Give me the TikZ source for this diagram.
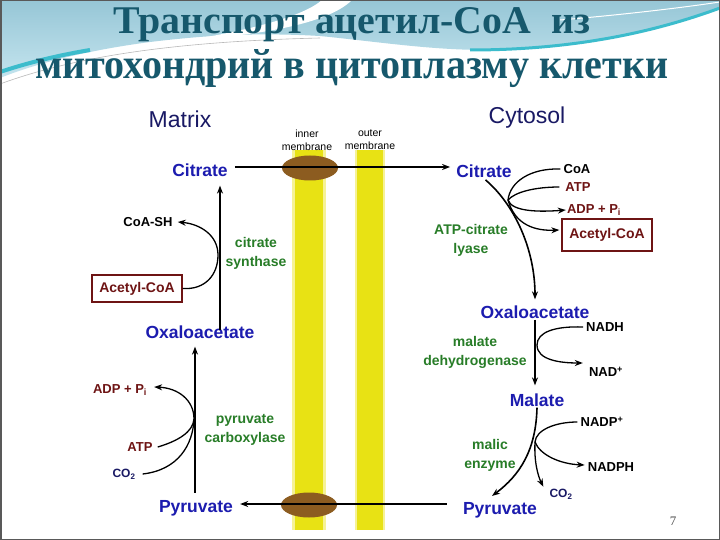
\documentclass[tikz,border=0pt]{standalone}
\usepackage{fontspec}
\setmainfont{Liberation Sans}
\newfontfamily\ttlfont{Liberation Serif}
\usepackage{graphicx}
\usetikzlibrary{arrows.meta,shapes.geometric}
\definecolor{labblue}{RGB}{28,28,175}
\definecolor{navy}{RGB}{25,25,100}
\definecolor{engreen}{RGB}{40,125,40}
\definecolor{dred}{RGB}{110,20,20}
\definecolor{ttl}{RGB}{22,88,108}
\definecolor{memyel}{RGB}{232,226,20}
\definecolor{memhalo}{RGB}{246,242,150}
\definecolor{brownov}{RGB}{140,92,32}
\definecolor{skyA}{RGB}{150,198,214}
\definecolor{skyB}{RGB}{196,228,238}
\definecolor{tealS}{RGB}{60,188,204}
\begin{document}
\begin{tikzpicture}[x=1pt,y=-1pt,
  every node/.style={inner sep=1pt},
  mol/.style={font=\bfseries\fontsize{17.5}{20}\selectfont, text=labblue},
  enz/.style={font=\bfseries\fontsize{14}{19}\selectfont, text=engreen, align=center},
  cof/.style={font=\bfseries\fontsize{13}{15}\selectfont, text=black},
  rcof/.style={font=\bfseries\fontsize{13}{15}\selectfont, text=dred},
  ncof/.style={font=\bfseries\fontsize{12}{14}\selectfont, text=navy},
  accbox/.style={draw=dred, line width=1.4pt, font=\bfseries\fontsize{14}{16}\selectfont, text=dred, minimum width=90pt, inner sep=0pt},
  comp/.style={font=\fontsize{23}{26}\selectfont, text=navy},
  memlab/.style={font=\fontsize{10.5}{13}\selectfont, align=center, inner sep=0pt},
  arr/.style={line width=1.6pt, -{Stealth[length=8pt,width=6pt]}},
  carr/.style={line width=1.3pt, -{Stealth[length=8pt,width=6pt]}},
  crv/.style={line width=1.3pt},
]
\useasboundingbox (0,0) rectangle (720,540);
% background
\fill[white] (0,0) rectangle (720,540);
\shade[top color=skyA, bottom color=skyB] (0,0) -- (720,0) -- (720,8)
  .. controls (660,30) and (580,50) .. (487,50)
  .. controls (430,50) and (380,42) .. (320,36)
  .. controls (250,32) and (200,36) .. (150,42)
  .. controls (90,50) and (40,62) .. (0,78) -- cycle;
\fill[white] (322,0) -- (352,0) .. controls (330,22) and (270,34) .. (190,40)
  .. controls (260,28) and (305,15) .. (322,0) -- cycle;
\draw[tealS, line width=3pt] (470,50) .. controls (580,50) and (660,30) .. (720,8);
\draw[tealS, line width=4pt] (0,72) .. controls (30,62) and (60,55) .. (90,50);
\draw[gray!55, line width=0.6pt] (0,84) .. controls (60,62) and (150,42) .. (320,38);
\draw[white, line width=1pt] (560,20) .. controls (620,15) and (680,8) .. (720,2);
% title
\node[anchor=base west, inner sep=0pt, text=ttl] (t1) at (113,34)
  {\resizebox{477pt}{26pt}{\ttlfont\bfseries Транспорт ацетил-CoA\ \ из}};
\node[anchor=base west, inner sep=0pt, text=ttl] (t2) at (35,79)
  {\resizebox{633pt}{29pt}{\ttlfont\bfseries митохондрий в цитоплазму клетки}};
% membranes
\fill[memhalo] (292,150) rectangle (326,530);
\fill[memyel] (295,150) rectangle (323,530);
\fill[memhalo] (355,150) rectangle (385,530);
\fill[memyel] (357,150) rectangle (383,530);
\fill[brownov] (310,168) ellipse (28 and 12.5);
\fill[brownov] (309,505) ellipse (28 and 12.5);
\node[memlab] (inner) at (307,140) {inner\\membrane};
\node[memlab] (outer) at (370,140) {outer\\membrane};
% compartments
\node[comp] (matrix) at (180,119) {Matrix};
\node[comp] (cytosol) at (527,118) {Cytosol};
% left side
\node[mol] (citL) at (200,170) {Citrate};
\node[mol] (oxaL) at (200,332) {Oxaloacetate};
\node[mol] (pyrL) at (196,508) {Pyruvate};
\node[accbox, minimum height=27pt] (accL) at (137,288.5) {Acetyl-CoA};
\node[cof] (coash) at (148,222) {CoA-SH};
\node[enz] (csyn) at (256,253) {citrate\\synthase};
\node[rcof] (adpL) at (120,390) {ADP + P\textsubscript{i}};
\node[rcof] (atpL) at (140,447) {ATP};
\node[ncof] (co2L) at (124,474) {CO\textsubscript{2}};
\node[enz] (pcarb) at (245,430) {pyruvate\\carboxylase};
% right side
\node[mol] (citR) at (484,171) {Citrate};
\node[cof] (coaR) at (577,169) {CoA};
\node[rcof] (atpR) at (578,187) {ATP};
\node[rcof] (adpR) at (594,210) {ADP + P\textsubscript{i}};
\node[accbox, minimum height=32pt] (accR) at (607,235) {Acetyl-CoA};
\node[enz] (acl) at (471,240) {ATP-citrate\\lyase};
\node[mol] (oxaR) at (535,312) {Oxaloacetate};
\node[mol] (malate) at (537,400) {Malate};
\node[mol] (pyrR) at (500,510) {Pyruvate};
\node[cof] (nadh) at (605,327) {NADH};
\node[cof] (nad) at (606,372) {NAD\textsuperscript{+}};
\node[enz] (mdh) at (475,352) {malate\\dehydrogenase};
\node[cof] (nadpP) at (602,422) {NADP\textsuperscript{+}};
\node[cof] (nadph) at (611,467) {NADPH};
\node[ncof] (co2R) at (561,494) {CO\textsubscript{2}};
\node[enz] (me) at (490,455) {malic\\enzyme};
\node[font=\ttlfont\fontsize{13}{15}\selectfont, text=black!70] (pg) at (673,521) {7};
% transport lines
\draw[arr, shorten <=6pt, shorten >=5pt] ([yshift=3pt]citL.east) -- ([yshift=3pt]citL.east -| citR.west);
\draw[arr, shorten <=15pt, shorten >=6pt] ([yshift=6pt]pyrR.west) -- ([yshift=6pt]pyrR.west -| pyrL.east);
% left pathway
\draw[arr, shorten <=-6pt, shorten >=8pt] ([xshift=20pt]oxaL.north) -- ([xshift=20pt]oxaL.north |- citL.south);
\draw[arr, shorten <=6pt, shorten >=7pt] ([xshift=-1pt]pyrL.north) -- ([xshift=-1pt]pyrL.north |- oxaL.south);
\draw[carr] (accL.east) .. controls (205,290) and (218,275) .. (218,255)
  .. controls (218,235) and (200,224) .. ([xshift=4pt]coash.east);
\coordinate (brL) at (194,419);
\draw[carr] ([xshift=4pt]atpL.east) .. controls (178,441) and (193,432) .. (brL)
  .. controls (194,400) and (178,388) .. ([xshift=6pt,yshift=3pt]adpL.east);
\draw[crv] ([xshift=6pt]co2L.east) .. controls (178,470) and (193,445) .. (brL);
% right pathway
\draw[arr, shorten <=2pt] (citR.south) .. controls (515,205) and (535,250) .. ([yshift=5pt]oxaR.north);
\coordinate (brR) at (508,200);
\draw[crv] ([xshift=-2pt]coaR.west) .. controls (530,168) and (510,182) .. (brR);
\draw[crv] ([xshift=-5pt]atpR.west) .. controls (535,187) and (515,192) .. (brR);
\draw[carr] (brR) .. controls (512,212) and (540,212) .. (adpR.west);
\draw[carr] (brR) .. controls (515,225) and (535,231) .. ([yshift=5pt,xshift=-2pt]accR.west);
\draw[arr, shorten >=7pt] (oxaR.south) -- (oxaR.south |- malate.north);
\coordinate (brN) at (537,345);
\draw[crv] ([xshift=-2pt]nadh.west) .. controls (555,326) and (537,332) .. (brN);
\draw[carr] (brN) .. controls (537,360) and (560,363) .. ([yshift=9pt,xshift=-5pt]nad.west);
\draw[arr] (malate.south) .. controls (536,450) and (520,475) .. ([xshift=-8pt,yshift=5pt]pyrR.north);
\coordinate (brP) at (535,442);
\draw[crv] ([xshift=-2pt]nadpP.west) .. controls (555,422) and (536,430) .. (brP);
\draw[carr] (brP) .. controls (540,455) and (560,464) .. ([yshift=2pt,xshift=-2pt]nadph.west);
\draw[carr] (brP) .. controls (534,462) and (538,476) .. ([xshift=-5pt,yshift=1pt]co2R.north west);
% slide frame
\draw[black!65, line width=1.5pt] (0.75,0.75) rectangle (719.25,539.25);
\end{tikzpicture}
\end{document}
